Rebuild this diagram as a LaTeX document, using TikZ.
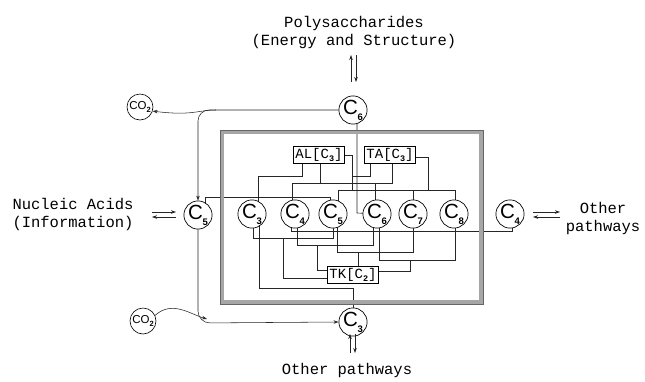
\documentclass[tikz,border=0pt]{standalone}
\usepackage{fontspec}
\setmainfont{Liberation Sans}
\newfontfamily\monof{Liberation Mono}
\usetikzlibrary{arrows.meta,backgrounds}
\newcommand{\Csub}[1]{C\kern-0.5pt\raisebox{-0.55ex}{\fontsize{9.5}{9.5}\selectfont\bfseries #1}}
\newcommand{\Msub}[1]{C\raisebox{-0.45ex}{\fontsize{8.5}{8.5}\selectfont\bfseries #1}}
\begin{document}
\begin{tikzpicture}[x=1pt,y=-1pt,
  cnode/.style={circle,draw,fill=white,line width=0.7pt,minimum size=28pt,inner sep=0pt,font=\fontsize{20.5}{20.5}\selectfont},
  conode/.style={circle,draw,fill=white,line width=0.6pt,minimum size=26pt,inner sep=0pt,font=\fontsize{11.5}{11.5}\selectfont},
  enz/.style={draw,fill=white,line width=0.7pt,inner sep=1.8pt,minimum height=17pt,font=\monof\fontsize{14}{14}\selectfont},
  net/.style={line width=0.6pt,draw=black!85},
  lbl/.style={font=\monof\fontsize{15.5}{18}\selectfont,align=center},
  arr/.style={-{Stealth[length=5pt,width=3.5pt]},line width=0.55pt,draw=black!85}]
\useasboundingbox (0,0) rectangle (645,381);

% frame
\draw[line width=3.6pt,draw=gray!70] (222,132) rectangle (481,302);
\draw[line width=0.35pt,draw=black!60] (220.2,130.2) rectangle (482.8,303.8);

% texts
\node[lbl] (poly) at (354,32) {Polysaccharides\\(Energy and Structure)};
\node[lbl] (nuc) at (73,214) {Nucleic Acids\\(Information)};
\node[lbl] (othr) at (603,218) {Other\\pathways};
\node[lbl] (othb) at (347,370) {Other pathways};

% outer nodes
\node[cnode] (C6o) at (353,110) {\Csub{6}};
\node[cnode] (C5o) at (198,215) {\Csub{5}};
\node[cnode] (C4o) at (510,214) {\Csub{4}};
\node[cnode] (C3o) at (353,322) {\Csub{3}};
\node[conode] (CO2a) at (140,107) {CO\raisebox{-0.4ex}{\fontsize{7.5}{7.5}\selectfont\bfseries 2}};
\node[conode] (CO2b) at (143,321) {CO\raisebox{-0.4ex}{\fontsize{7.5}{7.5}\selectfont\bfseries 2}};

% inner nodes
\node[cnode] (C3i) at (252,214) {\Csub{3}};
\node[cnode] (C4i) at (295,214) {\Csub{4}};
\node[cnode] (C5i) at (333,214) {\Csub{5}};
\node[cnode] (C6i) at (377,214) {\Csub{6}};
\node[cnode] (C7i) at (413,214) {\Csub{7}};
\node[cnode] (C8i) at (454,214) {\Csub{8}};

% enzymes
\node[enz] (AL) at (319,155) {AL[\Msub{3}]};
\node[enz] (TA) at (390,155) {TA[\Msub{3}]};
\node[enz] (TK) at (353,275) {TK[\Msub{2}]};

\begin{scope}[on background layer]
% top network
\draw[net] (302,163) -- (302,176) -- (258,176) -- (258,214);
\draw[net] (320,163) -- (320,183);
\draw[net] (292,214) -- (292,183) -- (392,183) -- (392,164);
\draw[net] (375,183) -- (375,214);
\draw[net] (AL.east |- 0,155) -- (352,155) -- (352,190);
\draw[net] (370,164) -- (370,176) -- (352,176);
\draw[net] (338,214) -- (338,190) -- (455,190) -- (455,214);
\draw[net] (413,190) -- (413,214);
\draw[net] (TA.east |- 0,157) -- (428,157) -- (428,190);
\draw[net] (205,215) -- (205,197) -- (330,197) -- (330,214);
\draw[net] (C6o.center) ++(4,0) -- (357,213) -- (C6i.center);
% bottom network
\draw[net] (253,214) -- (253,238) -- (333,238) -- (333,214);
\draw[net] (283,238) -- (283,278) -- (TK.west |- 0,278);
\draw[net] (297,214) -- (297,245) -- (373,245) -- (373,214);
\draw[net] (317,245) -- (317,270) -- (TK.west |- 0,270);
\draw[net] (337,214) -- (337,252) -- (413,252) -- (413,214);
\draw[net] (358,252) -- (TK.north -| 358,0);
\draw[net] (379,214) -- (379,260) -- (455,260) -- (455,214);
\draw[net] (410,260) -- (410,271) -- (TK.east |- 0,271);
\draw[net] (259,214) -- (259,288) -- (353,288) -- (C3o.center);
\draw[net] (291,214) -- (291,231) -- (512,231) -- (512,214);
\end{scope}

% outer connectors
\draw[arr,rounded corners=11pt] (C6o.west) -- (198,110) -- (C5o.north);
\draw[arr] (216,110) .. controls (198,110) and (192,116) .. (CO2a.-18);
\draw[arr,rounded corners=12pt] (C5o.south) -- (198,323) -- (C3o.west);
\draw[arr] (CO2b.25) .. controls (172,300) and (190,314) .. (207,319);

% exchange arrows
\draw[arr] (351,82) -- (351,55);
\draw[arr] (356,55) -- (356,82);
\draw[arr] (152,212) -- (176,212);
\draw[arr] (176,217) -- (152,217);
\draw[arr] (533,212) -- (560,212);
\draw[arr] (560,217) -- (533,217);
\draw[arr] (350,353) -- (350,334);
\draw[arr] (355,334) -- (355,353);
\end{tikzpicture}
\end{document}
